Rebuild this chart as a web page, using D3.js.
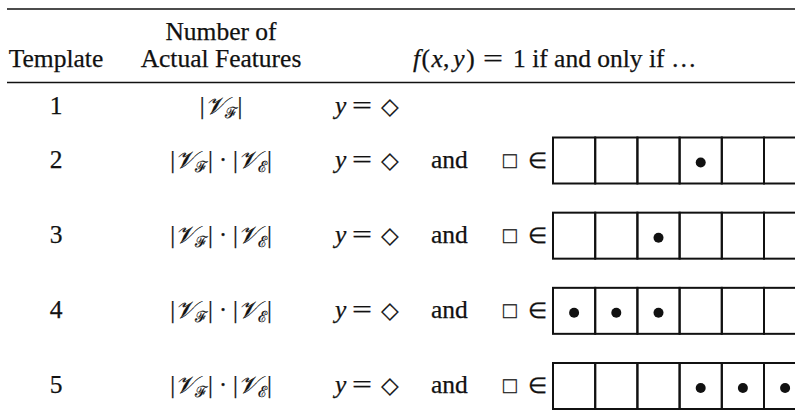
<!DOCTYPE html>
<html><head><meta charset="utf-8">
<script src="https://cdn.jsdelivr.net/npm/d3@7"></script>
<style>
body{margin:0;background:#fff}
svg{display:block}
text{font-family:"Liberation Serif","Times New Roman",serif;fill:#111;stroke:#111;stroke-width:0.25px}
</style></head><body>
<script>
// ---- data ----
const templates = ["1", "2", "3", "4", "5"];
const featureSubscripts = [["ℱ"], ["ℱ", "ℰ"], ["ℱ", "ℰ"], ["ℱ", "ℰ"], ["ℱ", "ℰ"]];
const hasCellCondition = [false, true, true, true, true];
const dotCells = [[], [3], [2], [0, 1, 2], [3, 4, 5]];
const cellIndex = [0, 1, 2, 3, 4, 5];
const headerCol1 = ["Template"];
const headerCol2 = ["Number of", "Actual Features"];
const headerCol3 = [["f", "i"], ["(", "r"], ["x", "i"], [",", "r"], ["y", "i"], [")", "r"]];
const headerCol3Tail = "1 if and only if …";

// ---- layout ----
const W = 795, H = 417, FS = 25.5;
const svg = d3.select("body").append("svg").attr("width", W).attr("height", H);

const rowY = d3.scaleLinear().domain([0, 1, 4]).range([107, 160.5, 386]);
const cellX = d3.scaleBand().domain(cellIndex).range([553, 553 + cellIndex.length * 42.2]);
const boxH = 46;

function mathEq(sel, x, y) {
  sel.append("text").attr("x", x).attr("y", y).attr("font-size", FS * 0.95)
    .attr("font-family", "DejaVu Sans").attr("stroke-width", 0)
    .attr("textLength", 20).attr("lengthAdjust", "spacingAndGlyphs").text("=");
}

// rules
svg.selectAll("line.rule").data([9, 82.5]).join("line").attr("class", "rule")
  .attr("x1", 7).attr("x2", W).attr("y1", d => d).attr("y2", d => d)
  .attr("stroke", "#111").attr("stroke-width", 1.5);

// headers
svg.append("text").attr("x", 56).attr("y", 67).attr("text-anchor", "middle")
  .attr("font-size", FS).text(headerCol1[0]);
svg.selectAll("text.h2").data(headerCol2).join("text").attr("class", "h2")
  .attr("x", 221).attr("y", (d, i) => 40 + i * 27).attr("text-anchor", "middle")
  .attr("font-size", FS).text(d => d);
const h3 = svg.append("text").attr("x", 413).attr("y", 67).attr("font-size", FS);
h3.selectAll("tspan").data(headerCol3).join("tspan")
  .attr("font-style", d => d[1] === "i" ? "italic" : "normal")
  .attr("dx", d => d[0] === "y" ? 4 : (d[0] === "(" || d[0] === "x" || d[0] === ")") ? 1.5 : 0)
  .text(d => d[0]);
mathEq(svg, 483, 67);
svg.append("text").attr("x", 513).attr("y", 67).attr("font-size", FS).text(headerCol3Tail);

// rows
const rows = svg.selectAll("g.row").data(templates).join("g").attr("class", "row")
  .attr("transform", (d, i) => `translate(0,${rowY(i)})`);

rows.append("text").attr("x", 56).attr("y", 7).attr("text-anchor", "middle")
  .attr("font-size", FS).text(d => d);

// feature counts
rows.each(function (d, i) {
  const t = d3.select(this).append("text").attr("x", 221).attr("y", 7)
    .attr("text-anchor", "middle").attr("font-size", FS * 0.95);
  featureSubscripts[i].forEach((s, k) => {
    if (k > 0) t.append("tspan").text(" · ");
    t.append("tspan").text("|");
    t.append("tspan").attr("font-style", "italic").text("𝒱");
    t.append("tspan").attr("font-size", FS * 0.6).attr("dy", 4).text(s);
    t.append("tspan").attr("dy", -4).text("|");
  });
});

// y = ◇
rows.append("text").attr("x", 335).attr("y", 7).attr("font-size", FS)
  .attr("font-style", "italic").text("y");
rows.each(function () { mathEq(d3.select(this), 352, 7); });
rows.append("text").attr("x", 381).attr("y", 7).attr("font-size", FS * 0.9)
  .attr("font-family", "DejaVu Sans").attr("stroke-width", 0).text("◇");

// cell condition rows
const cr = rows.filter((d, i) => hasCellCondition[i]);
cr.append("text").attr("x", 431).attr("y", 7).attr("font-size", FS).text("and");
cr.append("text").attr("x", 503).attr("y", 7).attr("font-size", FS * 0.88)
  .attr("font-family", "DejaVu Sans").attr("stroke-width", 0).text("□");
cr.append("text").attr("x", 528).attr("y", 7).attr("font-size", FS * 0.85)
  .attr("font-family", "DejaVu Sans").attr("stroke-width", 0).text("∈");

cr.each(function (d) {
  const i = templates.indexOf(d);
  const g = d3.select(this);
  g.selectAll("rect.cell").data(cellIndex).join("rect").attr("class", "cell")
    .attr("x", c => cellX(c)).attr("y", -boxH / 2)
    .attr("width", cellX.bandwidth()).attr("height", boxH)
    .attr("fill", "none").attr("stroke", "#111").attr("stroke-width", 2);
  g.selectAll("circle.dot").data(dotCells[i]).join("circle").attr("class", "dot")
    .attr("cx", c => cellX(c) + cellX.bandwidth() / 2).attr("cy", 2)
    .attr("r", 5).attr("fill", "#111");
});
</script>
</body></html>
